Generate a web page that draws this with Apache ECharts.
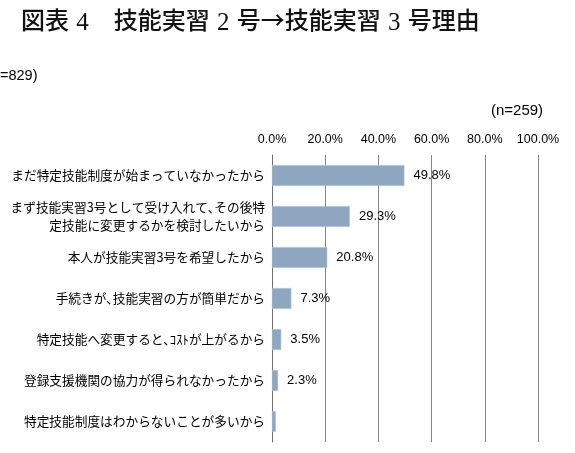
<!DOCTYPE html>
<html><head><meta charset="utf-8">
<script src="https://cdn.jsdelivr.net/npm/echarts@6/dist/echarts.min.js"></script>
<style>html,body{margin:0;padding:0;background:#fff}#c{width:575px;height:453px}</style>
</head><body><div id="c"></div>
<script>
var categories = [
  'まだ特定技能制度が始まっていなかったから',
  'まず技能実習3号として受け入れて､その後特\n定技能に変更するかを検討したいから',
  '本人が技能実習3号を希望したから',
  '手続きが､技能実習の方が簡単だから',
  '特定技能へ変更すると､ｺｽﾄが上がるから',
  '登録支援機関の協力が得られなかったから',
  '特定技能制度はわからないことが多いから'
];
var values = [49.8, 29.3, 20.8, 7.3, 3.5, 2.3, 1.5];
var showLabel = [true, true, true, true, true, true, false];
var tickLabels = ['0.0%', '20.0%', '40.0%', '60.0%', '80.0%', '100.0%'];

var chart = echarts.init(document.getElementById('c'));
chart.setOption({
  animation: false,
  title: {
    left: 21, top: 8, padding: 0,
    text: '{a|図表}{n| 4}{a|　技能実習}{n| 2 }{a|号→技能実習}{n| 3 }{a|号理由}',
    textStyle: {
      fontWeight: 'normal',
      rich: {
        a: {fontFamily: 'Noto Sans CJK JP', fontSize: 24, fontWeight: 500, color: '#111', lineHeight: 30, verticalAlign: 'top', padding: [0, 0, 0, 0]},
        n: {fontFamily: 'Liberation Serif', fontSize: 25, fontWeight: 'normal', color: '#111', lineHeight: 26, verticalAlign: 'top', padding: [3, 1, 0, 1]}
      }
    }
  },
  graphic: [
    {type: 'text', left: 0, top: 68, style: {text: '=829)', font: '14.5px "Liberation Sans"', fill: '#000'}},
    {type: 'text', left: 491, top: 103, style: {text: '(n=259)', font: '15px "Liberation Sans"', fill: '#000'}}
  ],
  grid: {left: 272, right: 37, top: 155, bottom: 11, containLabel: false},
  xAxis: {
    type: 'value', position: 'top', min: 0, max: 100, interval: 20,
    axisLine: {show: false}, axisTick: {show: false},
    axisLabel: {
      margin: 9, color: '#000', fontSize: 12.5, fontFamily: 'Liberation Sans',
      formatter: function (v) { return tickLabels[Math.round(v / 20)]; }
    },
    splitLine: {show: true, lineStyle: {color: '#858585', width: 1}}
  },
  yAxis: {
    type: 'category', inverse: true, data: categories,
    axisLine: {show: true, lineStyle: {color: '#6f6f6f', width: 1}},
    axisTick: {show: false},
    axisLabel: {margin: 7, color: '#000', fontSize: 12.7, fontFamily: 'Noto Sans CJK JP', lineHeight: 18, align: 'right'}
  },
  series: [{
    type: 'bar', barWidth: 21,
    data: values.map(function (v, i) {
      return {value: v, label: {show: showLabel[i]}};
    }),
    itemStyle: {color: '#8ea6c0', borderColor: '#c9d4e2', borderWidth: 0.5},
    label: {
      position: 'right', distance: 9, color: '#000', fontSize: 13, fontFamily: 'Liberation Sans',
      formatter: function (p) { return p.value.toFixed(1) + '%'; }
    },
    z: 3
  }]
});
</script></body></html>
